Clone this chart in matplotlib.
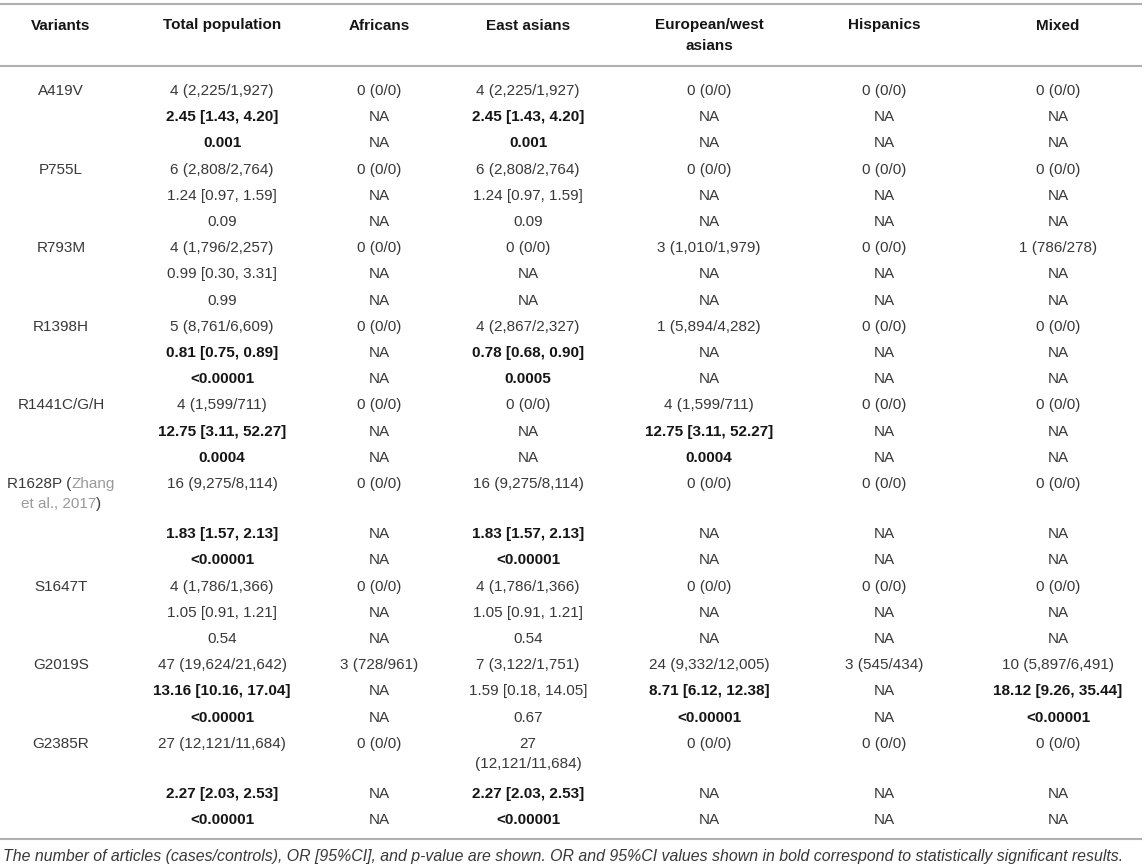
import matplotlib.pyplot as plt

plt.rcParams['font.family'] = ['Liberation Sans', 'DejaVu Sans']

# ---- table content ----
variants = ["A419V", "P755L", "R793M", "R1398H", "R1441C/G/H", "R1628P",
            "S1647T", "G2019S", "G2385R"]
headers = ["Variants", "Total population", "Africans", "East asians",
           "European/west\nasians", "Hispanics", "Mixed"]

total_counts = ["4 (2,225/1,927)", "6 (2,808/2,764)", "4 (1,796/2,257)", "5 (8,761/6,609)",
                "4 (1,599/711)", "16 (9,275/8,114)", "4 (1,786/1,366)",
                "47 (19,624/21,642)", "27 (12,121/11,684)"]
total_or = ["2.45 [1.43, 4.20]", "1.24 [0.97, 1.59]", "0.99 [0.30, 3.31]", "0.81 [0.75, 0.89]",
            "12.75 [3.11, 52.27]", "1.83 [1.57, 2.13]", "1.05 [0.91, 1.21]",
            "13.16 [10.16, 17.04]", "2.27 [2.03, 2.53]"]
total_p = ["0.001", "0.09", "0.99", "<0.00001", "0.0004", "<0.00001", "0.54", "<0.00001", "<0.00001"]
total_sig = [1, 0, 0, 1, 1, 1, 0, 1, 1]

africans_counts = ["0 (0/0)", "0 (0/0)", "0 (0/0)", "0 (0/0)", "0 (0/0)", "0 (0/0)",
                   "0 (0/0)", "3 (728/961)", "0 (0/0)"]
africans_or = ["NA", "NA", "NA", "NA", "NA", "NA", "NA", "NA", "NA"]
africans_p = ["NA", "NA", "NA", "NA", "NA", "NA", "NA", "NA", "NA"]
africans_sig = [0, 0, 0, 0, 0, 0, 0, 0, 0]

east_counts = ["4 (2,225/1,927)", "6 (2,808/2,764)", "0 (0/0)", "4 (2,867/2,327)", "0 (0/0)",
               "16 (9,275/8,114)", "4 (1,786/1,366)", "7 (3,122/1,751)", "27\n(12,121/11,684)"]
east_or = ["2.45 [1.43, 4.20]", "1.24 [0.97, 1.59]", "NA", "0.78 [0.68, 0.90]", "NA",
           "1.83 [1.57, 2.13]", "1.05 [0.91, 1.21]", "1.59 [0.18, 14.05]", "2.27 [2.03, 2.53]"]
east_p = ["0.001", "0.09", "NA", "0.0005", "NA", "<0.00001", "0.54", "0.67", "<0.00001"]
east_sig = [1, 0, 0, 1, 0, 1, 0, 0, 1]

euro_counts = ["0 (0/0)", "0 (0/0)", "3 (1,010/1,979)", "1 (5,894/4,282)", "4 (1,599/711)",
               "0 (0/0)", "0 (0/0)", "24 (9,332/12,005)", "0 (0/0)"]
euro_or = ["NA", "NA", "NA", "NA", "12.75 [3.11, 52.27]", "NA", "NA", "8.71 [6.12, 12.38]", "NA"]
euro_p = ["NA", "NA", "NA", "NA", "0.0004", "NA", "NA", "<0.00001", "NA"]
euro_sig = [0, 0, 0, 0, 1, 0, 0, 1, 0]

hisp_counts = ["0 (0/0)", "0 (0/0)", "0 (0/0)", "0 (0/0)", "0 (0/0)", "0 (0/0)",
               "0 (0/0)", "3 (545/434)", "0 (0/0)"]
hisp_or = ["NA", "NA", "NA", "NA", "NA", "NA", "NA", "NA", "NA"]
hisp_p = ["NA", "NA", "NA", "NA", "NA", "NA", "NA", "NA", "NA"]
hisp_sig = [0, 0, 0, 0, 0, 0, 0, 0, 0]

mixed_counts = ["0 (0/0)", "0 (0/0)", "1 (786/278)", "0 (0/0)", "0 (0/0)", "0 (0/0)",
                "0 (0/0)", "10 (5,897/6,491)", "0 (0/0)"]
mixed_or = ["NA", "NA", "NA", "NA", "NA", "NA", "NA", "18.12 [9.26, 35.44]", "NA"]
mixed_p = ["NA", "NA", "NA", "NA", "NA", "NA", "NA", "<0.00001", "NA"]
mixed_sig = [0, 0, 0, 0, 0, 0, 0, 1, 0]

footnote = ("The number of articles (cases/controls), OR [95%CI], and p-value are shown. "
            "OR and 95%CI values shown in bold correspond to statistically significant results.")

populations = [
    (total_counts, total_or, total_p, total_sig),
    (africans_counts, africans_or, africans_p, africans_sig),
    (east_counts, east_or, east_p, east_sig),
    (euro_counts, euro_or, euro_p, euro_sig),
    (hisp_counts, hisp_or, hisp_p, hisp_sig),
    (mixed_counts, mixed_or, mixed_p, mixed_sig),
]

# ---- layout ----
col_x = [61, 222, 379, 528, 709, 884, 1058]
fs = 11
c_txt = '#383838'
c_bold = '#151515'
c_ref = '#9a9a9a'
c_rule = '#b0b0b0'
step = 26.2      # row spacing
wrap = 20.5      # line spacing inside a wrapped cell
extra = 24       # extra row height for a wrapped cell
base = 5.5       # baseline offset from visual centre

fig = plt.figure(figsize=(11.44, 8.67), dpi=100)
ax = fig.add_axes([0, 0, 1, 1])
ax.set_xlim(0, 1144)
ax.set_ylim(867, 0)
ax.axis('off')
renderer = fig.canvas.get_renderer()


def width(s, **kw):
    t = ax.text(0, 0, s, fontsize=fs, **kw)
    w = t.get_window_extent(renderer).width
    t.remove()
    return w


def cell(x, y, s, bold=False):
    for k, line in enumerate(s.split('\n')):
        ax.text(x, y + k * wrap + base, line, ha='center', va='baseline', fontsize=fs,
                fontweight='bold' if bold else 'normal', color=c_bold if bold else c_txt)


# rules
for yy in (4, 66, 839):
    ax.plot([0, 1142], [yy, yy], color=c_rule, lw=1.5, solid_capstyle='butt')

# header
for x, h in zip(col_x, headers):
    for k, line in enumerate(h.split('\n')):
        ax.text(x, 24 + k * 21 + base, line, ha='center', va='baseline', fontsize=fs,
                fontweight='bold', color=c_bold)

# body
y = 89.5
for i, v in enumerate(variants):
    nlines = 1
    if v == "R1628P":
        # label with grey citation, wrapped on two lines
        l1a, l1b = "R1628P (", "Zhang"
        w1 = width(l1a + l1b)
        ax.text(col_x[0] - w1 / 2, y + base, l1a, ha='left', va='baseline', fontsize=fs, color=c_txt)
        ax.text(col_x[0] + w1 / 2, y + base, l1b, ha='right', va='baseline', fontsize=fs, color=c_ref)
        l2a, l2b = "et al., 2017", ")"
        w2 = width(l2a + l2b)
        ax.text(col_x[0] - w2 / 2, y + wrap + base, l2a, ha='left', va='baseline', fontsize=fs, color=c_ref)
        ax.text(col_x[0] + w2 / 2, y + wrap + base, l2b, ha='right', va='baseline', fontsize=fs, color=c_txt)
        nlines = 2
    else:
        cell(col_x[0], y, v)
    for j, (cnt, orr, pv, sig) in enumerate(populations):
        cell(col_x[j + 1], y, cnt[i])
        nlines = max(nlines, len(cnt[i].split('\n')))
    y += step + (nlines - 1) * extra
    for j, (cnt, orr, pv, sig) in enumerate(populations):
        cell(col_x[j + 1], y, orr[i], bold=bool(sig[i]))
    y += step
    for j, (cnt, orr, pv, sig) in enumerate(populations):
        cell(col_x[j + 1], y, pv[i], bold=bool(sig[i]))
    y += step

ax.text(3, 861, footnote, ha='left', va='baseline', fontsize=11.4, style='italic', color=c_txt)

plt.savefig('out.png', dpi=100)
plt.close()
